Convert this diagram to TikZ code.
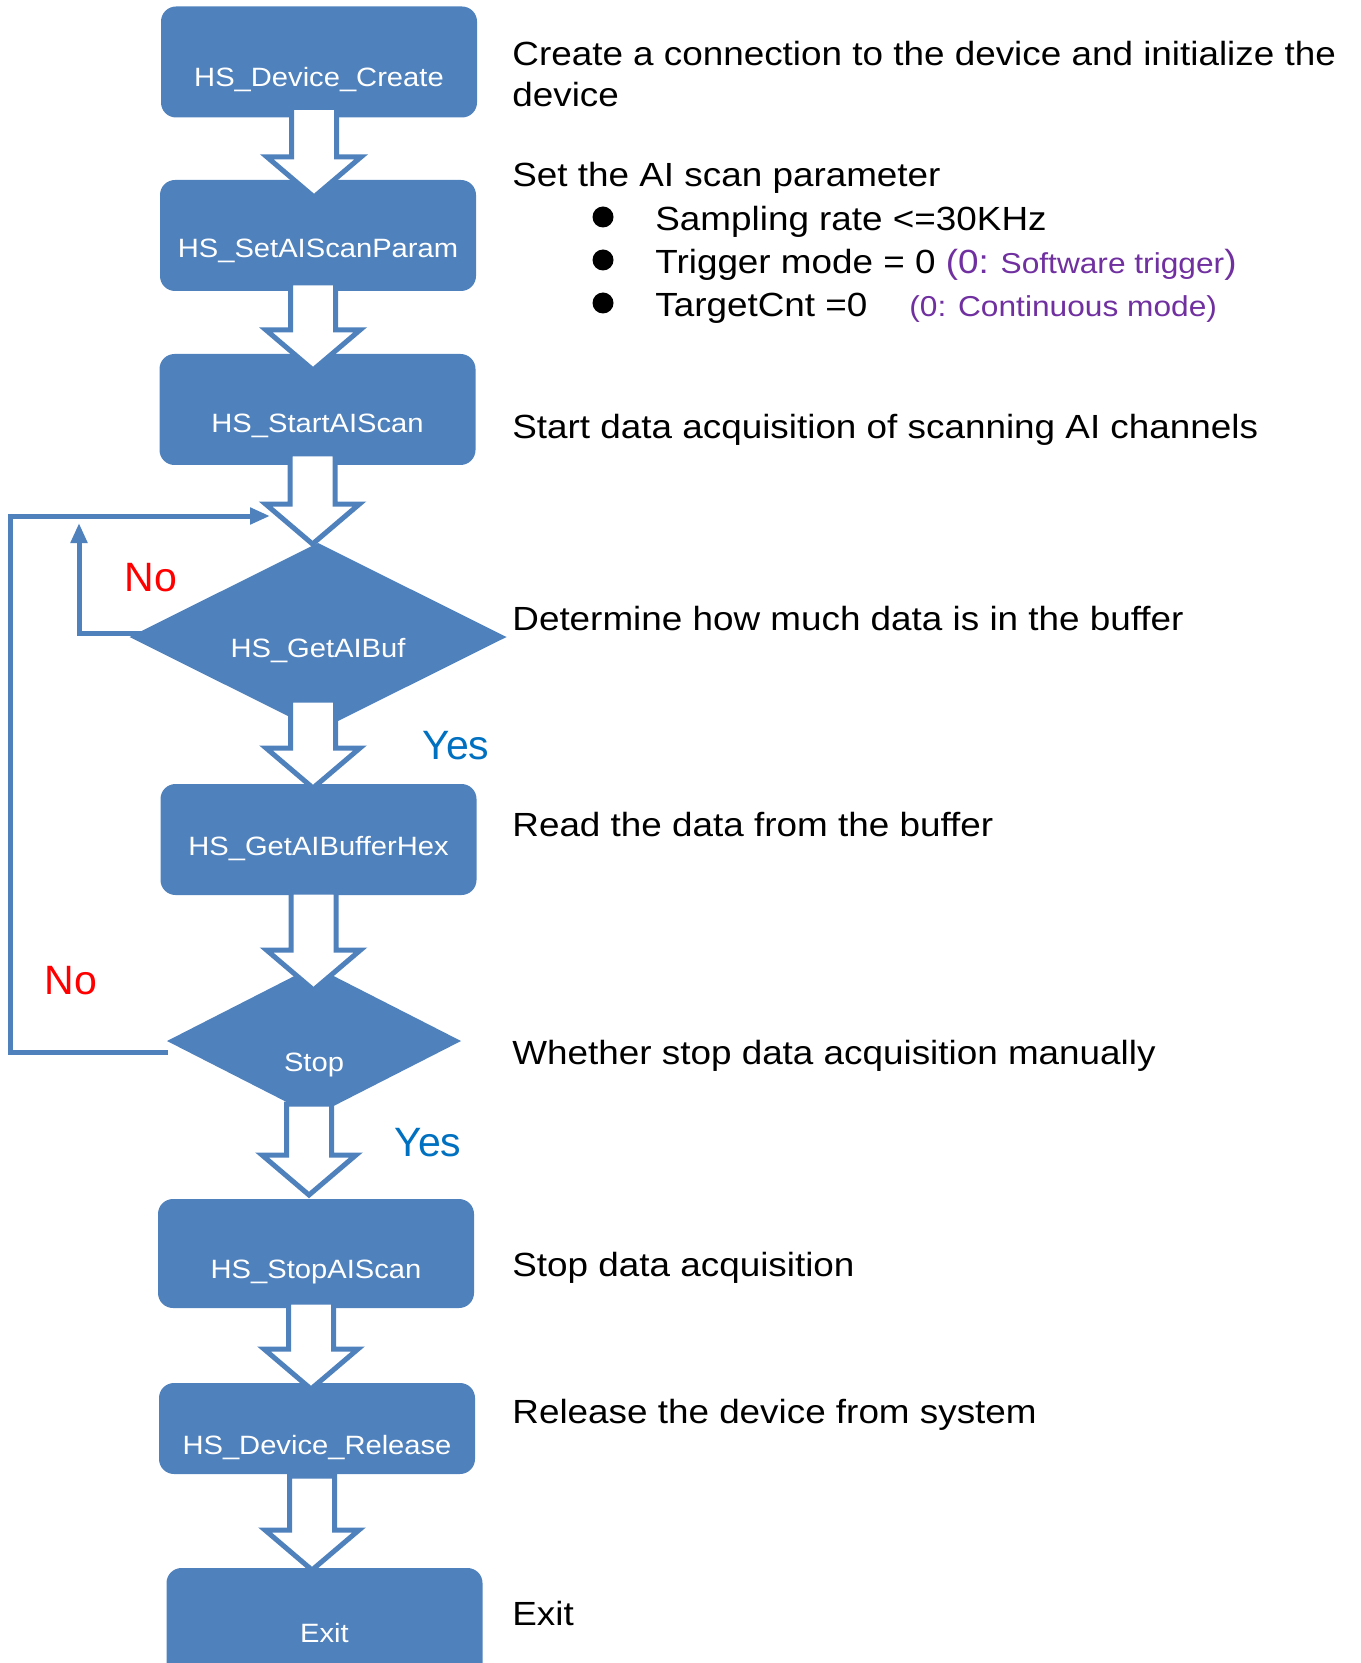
\documentclass[tikz,border=0pt]{standalone}
\usepackage{fontspec}
\setmainfont{Liberation Sans}
\newfontfamily\widefont{Liberation Sans}[FakeStretch=1.1]
\usepackage{tikz}
\usetikzlibrary{shapes.geometric}
\usetikzlibrary{arrows.meta}
\usetikzlibrary{calc}

\definecolor{boxblue}{HTML}{4F81BD}
\definecolor{yesblue}{HTML}{0070C0}
\definecolor{noted}{HTML}{7030A0}

\newcommand{\boxfont}{\widefont\fontsize{13.25}{16}\selectfont}
\newcommand{\descfont}{\widefont\fontsize{16.75}{20}\selectfont}
\newcommand{\notefont}{\widefont\fontsize{14.4}{17}\selectfont}

% hollow block arrow: from, to, shaft start above from, tip depth into to
\newcommand{\flow}[4]{%
  \path ($(#1.south)+(-5,2-#3)$) coordinate (ftop)
        ($(#2.north)+(0,#4-3)$) coordinate (fend)
        (ftop |- fend) coordinate (ftip);
  \draw[flowarrow] ($(ftop)+(-22.5,0)$) -- ($(ftip)+(-22.5,-40)$)
    -- ($(ftip)+(-47,-40)$) -- (ftip) -- ($(ftip)+(47,-40)$)
    -- ($(ftip)+(22.5,-40)$) -- ($(ftop)+(22.5,0)$) -- cycle;}

\tikzset{
  funcbox/.style={fill=boxblue, rounded corners=7.5pt, minimum width=158pt,
    minimum height=55.5pt, inner sep=0pt, outer sep=0pt, text=white,
    font=\boxfont, text height=24pt, text depth=0pt},
  decision/.style={diamond, fill=boxblue, aspect=2, inner sep=0pt, outer sep=0pt,
    text=white, font=\boxfont, text depth=0pt},
  desc/.style={anchor=base west, inner sep=0pt, font=\descfont},
  answer/.style={font=\fontsize{20.5}{24}\selectfont, inner sep=0pt},
  bulletdot/.style={circle, fill=black, minimum size=10.5pt, inner sep=0pt},
  flowarrow/.style={draw=boxblue, fill=white, line width=2.5pt},
  loopline/.style={draw=boxblue, line width=2.5pt, -{Triangle[length=10pt,width=8pt]}},
}

\begin{document}
\begin{tikzpicture}[x=0.5pt,y=0.5pt,yscale=-1,xscale=1]
\useasboundingbox (0,0) rectangle (1360,1663);

% flow chart
\node[funcbox, text height=25pt] (create) at (319,62) {HS\_Device\_Create};
\node[funcbox, text height=22.5pt] (setparam) at (318,235.5) {HS\_SetAIScanParam};
\node[funcbox, text height=23.5pt] (startscan) at (317.5,409.5) {HS\_StartAIScan};
\node[decision, minimum width=188.5pt, minimum height=94pt, text height=20pt] (getbuf) at (318,637) {HS\_GetAIBuf};
\node[funcbox, text height=15.5pt] (getbufhex) at (318.5,839.5) {HS\_GetAIBufferHex};
\node[decision, minimum width=147pt, minimum height=75pt, text height=30pt] (stopq) at (314,1041) {Stop};
\node[funcbox, minimum height=54.5pt, text height=24.5pt] (stopscan) at (316,1253.5) {HS\_StopAIScan};
\node[funcbox, minimum height=45.5pt, text height=25.5pt] (release) at (317,1428.5) {HS\_Device\_Release};
\node[funcbox, minimum height=55pt, text height=19pt] (exitbox) at (324.5,1623) {Exit};

\flow{create}{setparam}{12}{20}
\flow{setparam}{startscan}{10}{19}
\flow{startscan}{getbuf}{13}{4}
\flow{getbuf}{getbufhex}{33}{7}
\flow{getbufhex}{stopq}{5}{27}
\flow{stopq}{stopscan}{14}{-1}
\flow{stopscan}{release}{8}{9}
\flow{release}{exitbox}{0}{5}

% loops back
\coordinate (mergept) at (270,516);
\coordinate (outerrail) at (10,516);
\coordinate (innerup) at (79,523);
\draw[loopline] ($(stopq.west)+(1,11)$) -| (outerrail) -- (mergept);
\draw[loopline] ($(getbuf.west)+(17,-4)$) -| (innerup);

\node[answer, text=red] (noinner) at (151,578) {No};
\node[answer, text=yesblue] (yesbuf) at (456,746) {Yes};
\node[answer, text=red] (noouter) at (71,981) {No};
\node[answer, text=yesblue] (yesstop) at (428,1143) {Yes};

% descriptions
\node[desc] (dcreate) at (512,66) {Create a connection to the device and initialize the};
\node[desc] (dcreatecont) at (512,107) {device};
\node[desc] (dparam) at (512,187) {Set the AI scan parameter};
\node[bulletdot] (dot1) at (603,217) {};
\node[bulletdot] (dot2) at (603,260) {};
\node[bulletdot] (dot3) at (603,303) {};
\node[desc] (drate) at (655,231) {Sampling rate <=30KHz};
\node[desc] (dtrig) at (655,274) {Trigger mode = 0 {\color{noted}(0:{\notefont{} Software trigger})}};
\node[desc] (dcnt) at (655,317) {TargetCnt =0};
\node[desc, font=\notefont, text=noted] (dcntnote) at (909,317) {(0: Continuous mode)};
\node[desc] (dstart) at (512,438) {Start data acquisition of scanning AI channels};
\node[desc] (dbuf) at (512,630) {Determine how much data is in the buffer};
\node[desc] (dread) at (512,836) {Read the data from the buffer};
\node[desc] (dstopq) at (512,1064) {Whether stop data acquisition manually};
\node[desc] (dstop) at (512,1276) {Stop data acquisition};
\node[desc] (drelease) at (512,1423) {Release the device from system};
\node[desc] (dexit) at (512,1625) {Exit};
\end{tikzpicture}
\end{document}
